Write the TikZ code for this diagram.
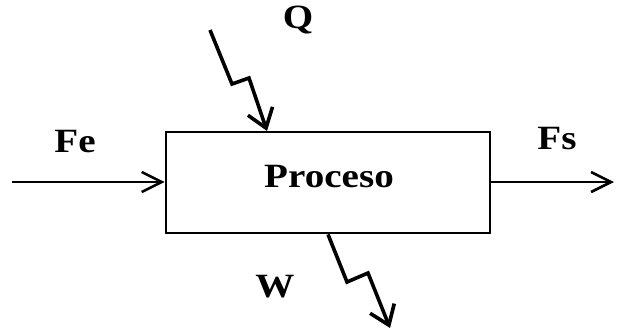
\documentclass[tikz,border=0pt]{standalone}
\usepackage{fontspec}
\setmainfont{Liberation Serif}[FakeStretch=1.15]
\usetikzlibrary{arrows.meta,calc}
\begin{document}
\begin{tikzpicture}[x=1pt,y=-1pt,
  lbl/.style={font=\fontsize{34}{34}\selectfont\bfseries, inner sep=0pt, anchor=center},
  flow/.style={line width=2.6pt, -{Straight Barb[length=20pt,width=20pt,line width=2.6pt]}},
  bolt/.style={line width=3.6pt, line join=miter, -{Straight Barb[length=18pt,width=26pt,line width=3.6pt]}}]
\useasboundingbox (0,0) rectangle (618,335);
\node[draw, line width=2.8pt, minimum width=324pt, minimum height=101pt, inner sep=0pt] (proc) at (328,182.5) {};
\node[lbl] (ptxt) at (329,177) {Proceso};
\node[lbl] (q) at (298,20) {Q};
\node[lbl] (fe) at (75,142) {Fe};
\node[lbl] (fs) at (557,139) {Fs};
\node[lbl] (w) at (275,287) {W};
\coordinate (in) at (12,182);
\coordinate (out) at (614,182);
\draw[flow] (in) -- (proc.west |- in);
\draw[flow] (proc.east |- out) -- (out);
\coordinate (q0) at (210,30);
\coordinate (q1) at (232,84);
\coordinate (q2) at (249,78);
\coordinate (q3) at (267,131);
\draw[bolt] (q0) -- (q1) -- (q2) -- (q3);
\coordinate (w1) at (347,282);
\coordinate (w2) at (368,273);
\coordinate (w3) at (390,328);
\draw[bolt] (proc.south) -- (w1) -- (w2) -- (w3);
\end{tikzpicture}
\end{document}
